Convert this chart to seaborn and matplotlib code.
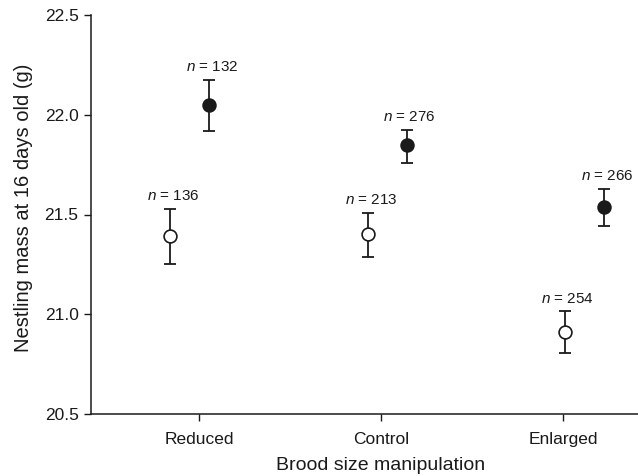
import matplotlib
matplotlib.use("Agg")
import matplotlib.pyplot as plt
import seaborn as sns
import pandas as pd

# Data
categories = ["Reduced", "Control", "Enlarged"]
tick_pos = [1, 2, 3]
open_x = [0.841, 1.929, 3.011]
open_mean = [21.39, 21.40, 20.91]
open_lo = [21.25, 21.285, 20.805]
open_hi = [21.53, 21.51, 21.015]
open_n = [136, 213, 254]
filled_x = [1.057, 2.141, 3.227]
filled_mean = [22.05, 21.85, 21.54]
filled_lo = [21.92, 21.76, 21.44]
filled_hi = [22.175, 21.925, 21.63]
filled_n = [132, 276, 266]
y_ticks = [20.5, 21.0, 21.5, 22.0, 22.5]

sns.set_theme(style="ticks")
plt.rcParams['font.family'] = ['Liberation Sans', 'DejaVu Sans']
plt.rcParams['mathtext.fontset'] = 'custom'
plt.rcParams['mathtext.it'] = 'Liberation Sans:italic'
plt.rcParams['mathtext.rm'] = 'Liberation Sans'

fig = plt.figure(figsize=(6.38, 4.76), dpi=100)
ax = fig.add_axes([91/638, 1 - 414/476, 1 - 91/638, (414 - 15)/476])

df_open = pd.DataFrame({"x": open_x, "y": open_mean, "lo": open_lo, "hi": open_hi, "n": open_n})
df_filled = pd.DataFrame({"x": filled_x, "y": filled_mean, "lo": filled_lo, "hi": filled_hi, "n": filled_n})

for df, fc in [(df_open, "white"), (df_filled, "#1a1a1a")]:
    ax.errorbar(df["x"], df["y"], yerr=[df["y"] - df["lo"], df["hi"] - df["y"]],
                fmt="none", ecolor="#1a1a1a", elinewidth=1.3, capsize=4.5, capthick=1.3, zorder=2)
    sns.scatterplot(data=df, x="x", y="y", ax=ax, s=85, color=fc, edgecolor="#1a1a1a",
                    linewidth=1.2, zorder=3, legend=False)
    for _, r in df.iterrows():
        ax.annotate(f"$n$ = {int(r['n'])}", (r["x"], r["hi"]), xytext=(2, 4),
                    textcoords="offset points", ha="center", va="bottom", fontsize=11,
                    color="#1a1a1a")

xmin, xmax = 0.4066, 3.412
ax.set_xlim(xmin, xmax)
ax.set_ylim(20.5, 22.5)
ax.set_xticks(tick_pos)
ax.set_xticklabels(categories)
ax.set_yticks(y_ticks)
ax.set_yticklabels([f"{v:.1f}" for v in y_ticks])
ax.tick_params(axis="both", labelsize=12.5, length=5, width=1, colors="#1a1a1a", labelcolor="#1a1a1a")
ax.tick_params(axis="x", pad=8)
ax.tick_params(axis="y", pad=4)
ax.set_xlabel("Brood size manipulation", fontsize=14, color="#1a1a1a")
ax.set_ylabel("Nestling mass at 16 days old (g)", fontsize=14.5, color="#1a1a1a")
ax.xaxis.set_label_coords((tick_pos[1] - xmin) / (xmax - xmin), -(465 - 414) / 399, transform=ax.transAxes)
ax.xaxis.label.set_va("center")
ax.yaxis.set_label_coords(-(91 - 24) / 547, (414 - 208) / 399, transform=ax.transAxes)
ax.yaxis.label.set_va("center")
for s in ["top", "right"]:
    ax.spines[s].set_visible(False)
for s in ["left", "bottom"]:
    ax.spines[s].set_color("#1a1a1a")
    ax.spines[s].set_linewidth(1.1)

fig.savefig("out.png", dpi=100)
